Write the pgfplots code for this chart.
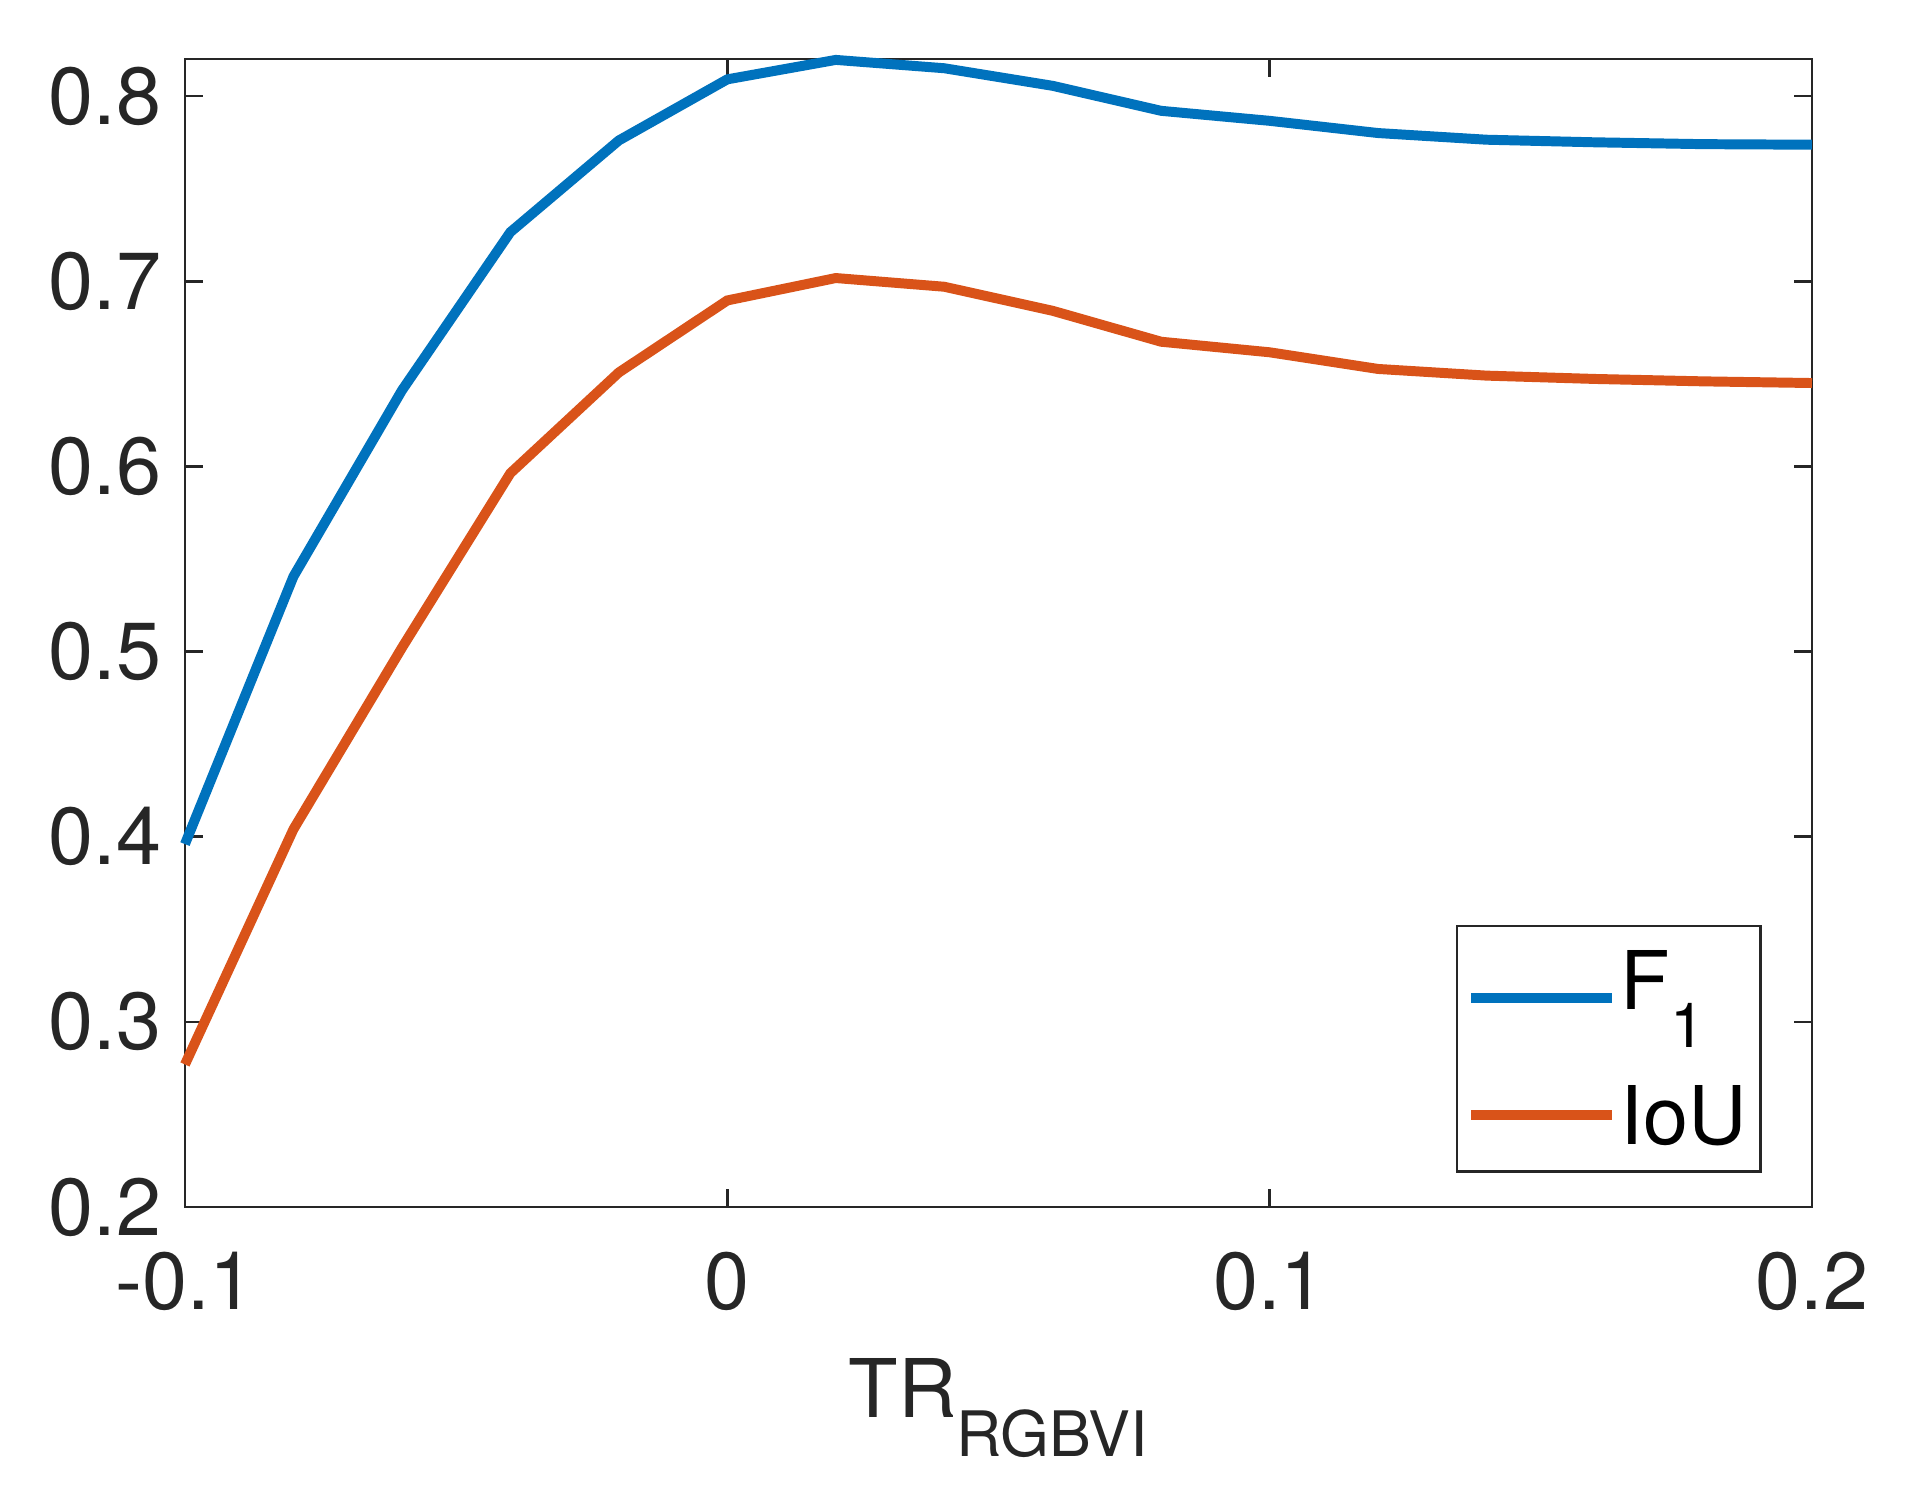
\documentclass[border=0pt]{standalone}
\usepackage{fontspec}
\setmainfont{TeX Gyre Heros}
\usepackage{pgfplots}
\pgfplotsset{compat=1.18}
\definecolor{mblue}{RGB}{0,114,189}
\definecolor{morange}{RGB}{217,83,25}
\definecolor{axgray}{RGB}{38,38,38}
\begin{document}
\begin{tikzpicture}
\begin{axis}[
  name=ax,
  scale only axis,
  width=13.775cm, height=9.720cm,
  xmin=-0.1, xmax=0.2, ymin=0.2, ymax=0.82,
  xtick={-0.1,0,0.1,0.2}, xticklabels={-0.1,0,0.1,0.2},
  ytick={0.2,0.3,0.4,0.5,0.6,0.7,0.8},
  yticklabels={0.2,0.3,0.4,0.5,0.6,0.7,0.8},
  tick align=inside,
  xtick pos=both, ytick pos=both,
  major tick length=4.3pt,
  axis line style={axgray, line width=0.65pt},
  every tick/.style={axgray, line width=0.65pt},
  tick label style={font=\fontsize{19.5}{23}\selectfont, text=axgray},
  xticklabel style={anchor=base, yshift=-24.6pt},
  yticklabel style={xshift=-2.2pt},
  xlabel={TR\raisebox{-9.4pt}{\fontsize{15.1}{18}\selectfont RGBVI}},
  xlabel style={at={(axis description cs:0.5,0)}, anchor=base, yshift=-50.8pt,
    font=\fontsize{19.5}{23}\selectfont, text=axgray},
  clip=false,
  legend image code/.code={\draw[#1] (0pt,0pt) -- (34pt,0pt);},
  legend style={at={(rel axis cs:1,0)}, anchor=south east, xshift=-12pt, yshift=8.2pt,
    draw=axgray, line width=0.65pt, fill=white,
    inner xsep=2.2pt, inner ysep=1.4pt, row sep=0pt, column sep=0.85pt,
    font=\fontsize{19.5}{23}\selectfont, text=black,
    nodes={inner sep=0pt}, cells={anchor=west}},
]
\addplot[mblue, line width=2.4pt] coordinates {
(-0.1,0.396) (-0.08,0.5405) (-0.06,0.641) (-0.04,0.7265) (-0.02,0.776)
(0,0.809) (0.02,0.8195) (0.04,0.815) (0.06,0.8055) (0.08,0.792)
(0.1,0.7866) (0.12,0.780) (0.14,0.7764) (0.16,0.775) (0.18,0.774) (0.2,0.7737)};
\addlegendentry{\rule{0pt}{30.6pt}\smash{\raisebox{11.9pt}{F\raisebox{-9.3pt}{\fontsize{15}{18}\selectfont 1}}}}
\addplot[morange, line width=2.4pt] coordinates {
(-0.1,0.277) (-0.08,0.404) (-0.06,0.502) (-0.04,0.5963) (-0.02,0.6507)
(0,0.6896) (0.02,0.7017) (0.04,0.697) (0.06,0.684) (0.08,0.6673)
(0.1,0.6616) (0.12,0.6526) (0.14,0.649) (0.16,0.6472) (0.18,0.6459) (0.2,0.645)};
\addlegendentry{\rule{0pt}{22.8pt}\smash{\raisebox{3.7pt}{IoU}}\kern1.2pt}
\end{axis}
\pgfresetboundingbox
\path ([xshift=-1.566cm,yshift=-2.396cm]ax.south west) rectangle ([xshift=0.830cm,yshift=0.4995cm]ax.north east);
\end{tikzpicture}
\end{document}
